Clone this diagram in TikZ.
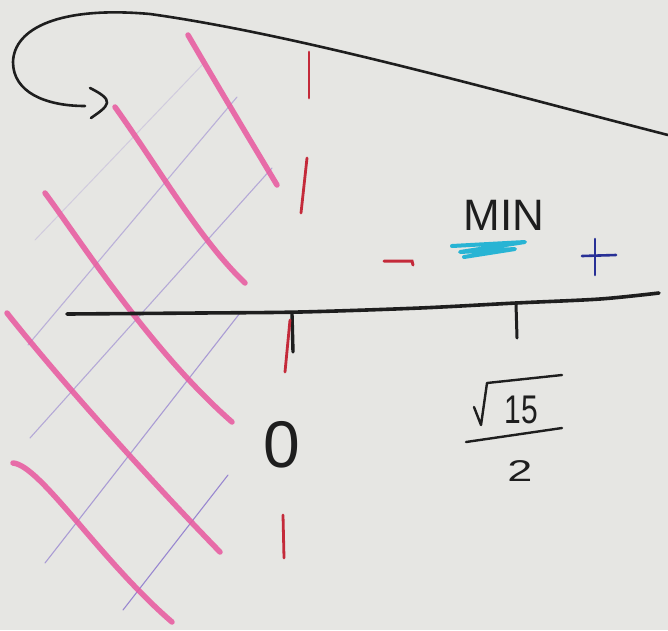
\documentclass[tikz,border=0pt]{standalone}
\usepackage{fontspec}
\setmainfont{Liberation Sans}
\definecolor{paper}{RGB}{230,230,227}
\definecolor{hl}{RGB}{232,92,160}
\definecolor{purp}{RGB}{120,95,200}
\definecolor{redp}{RGB}{196,42,58}
\definecolor{cyanp}{RGB}{40,180,212}
\definecolor{bluep}{RGB}{40,48,150}
\definecolor{ink}{RGB}{30,30,30}
\tikzset{
  inkline/.style={draw=ink, line width=2.6pt, line cap=round, line join=round},
  axisline/.style={draw=ink, line width=3.6pt, line cap=round},
  hatchpink/.style={draw=hl, line width=5.5pt, line cap=round, opacity=0.88},
  hatchpurp/.style={draw=purp, line width=1.1pt, line cap=round, opacity=0.55},
  faintpurp/.style={draw=purp, line width=1pt, line cap=round, opacity=0.2},
  reddash/.style={draw=redp, line width=2.8pt, line cap=round},
  handtext/.style={text=ink, inner sep=0pt, outer sep=0pt}
}
\begin{document}
\begin{tikzpicture}[x=1pt,y=-1pt]
\fill[paper] (0,0) rectangle (668,630);
\useasboundingbox (0,0) rectangle (668,630);

% purple hatching (lower-left to upper-right)
\draw[faintpurp] (205,62) -- (35,240);
\draw[hatchpurp, opacity=0.4] (237,97) -- (28,345);
\draw[hatchpurp, opacity=0.45] (272,168) -- (30,438);
\draw[hatchpurp] (240,313) -- (45,563);
\draw[hatchpurp, opacity=0.7] (228,475) -- (123,610);

% pink hatching (upper-left to lower-right)
\draw[hatchpink] (188,35) .. controls (220,90) and (250,140) .. (277,185);
\draw[hatchpink] (115,107) .. controls (160,170) and (200,240) .. (245,283);
\draw[hatchpink] (45,193) .. controls (80,240) and (150,350) .. (232,422);
\draw[hatchpink] (7,313) .. controls (60,380) and (150,480) .. (220,552);
\draw[hatchpink] (13,463) .. controls (40,465) and (100,560) .. (172,622);

% curved arrow
\draw[inkline] (668,135) .. controls (500,92) and (300,35) .. (150,14)
  .. controls (60,6) and (14,28) .. (13,62)
  .. controls (13,92) and (45,106) .. (85,106);
\draw[inkline] (90,88) .. controls (100,93) and (108,98) .. (107,103) .. controls (106,108) and (98,113) .. (91,118);

% axis
\draw[axisline] plot[smooth, tension=0.5] coordinates {(67,314) (200,313) (300,312) (420,308) (516,303) (600,299) (659,293)};
\draw[inkline, line width=3pt] (516,304) -- (517,338);
\draw[inkline, line width=3.4pt] (292,314) -- (293,352);

% red dashed vertical line
\draw[reddash] (309,52) -- (309,98);
\draw[reddash] (307,158) -- (301,213);
\draw[reddash] (290,320) -- (285,372);
\draw[reddash] (283,515) -- (284,558);

% signs
\draw[reddash, line width=3pt] (384,261) -- (412,261) -- (413,265);
\draw[draw=bluep, line width=2.6pt, line cap=round] (582,256) -- (616,255);
\draw[draw=bluep, line width=2.6pt, line cap=round] (595,239) -- (595,275);

% MIN with cyan underline
\node[handtext, font=\fontsize{44}{44}\selectfont, anchor=base] (min) at (504,230) {MIN};
\draw[draw=cyanp, line width=4pt, line cap=round, line join=round] (452,246) -- (525,242) -- (460,252) -- (515,249) -- (464,257);

% zero
\node[handtext, font=\fontsize{66}{66}\selectfont, anchor=base] (zero) at (282,467) {0};

% sqrt(15)/2
\draw[inkline, line width=2.4pt] (474,407) -- (481,425) -- (487,383) -- (562,375);
\node[handtext, font=\fontsize{40}{40}\selectfont, xscale=0.75, anchor=base] (fifteen) at (521,423) {15};
\draw[inkline, line width=2.4pt] (466,442) -- (562,428);
\node[handtext, font=\fontsize{30}{30}\selectfont, xscale=1.5, anchor=base] (two) at (520,481) {2};
\end{tikzpicture}
\end{document}
